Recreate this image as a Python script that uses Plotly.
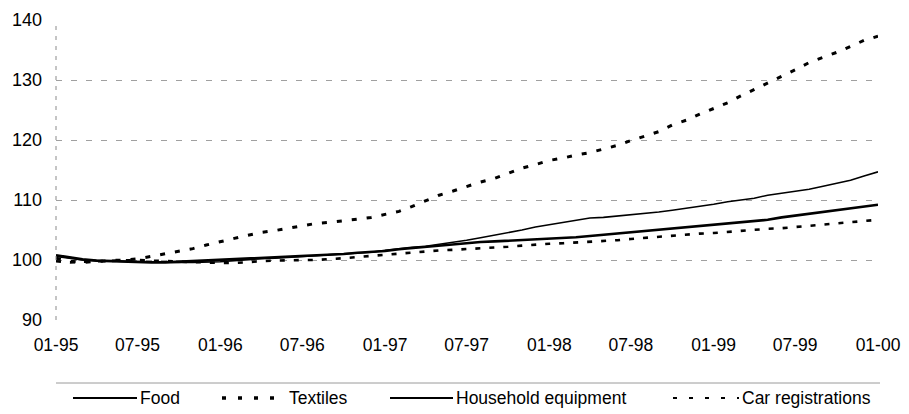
import pandas as pd
import plotly.graph_objects as go

# Monthly dates Jan-1995 .. Jan-2000
months = pd.date_range("1995-01-01", "2000-01-01", freq="MS")

food = [100.6, 100.3, 100.0, 99.9, 99.8, 99.7, 99.7, 99.7, 99.6, 99.6, 99.6, 99.6,
        99.7, 99.9, 100.1, 100.2, 100.3, 100.4, 100.6, 100.7, 100.9, 101.0, 101.2, 101.3,
        101.6, 101.9, 102.1, 102.3, 102.6, 102.9, 103.3, 103.7, 104.1, 104.5, 105.0, 105.5,
        105.9, 106.3, 106.7, 107.0, 107.1, 107.3, 107.5, 107.8, 108.0, 108.3, 108.6, 108.9,
        109.3, 109.7, 110.0, 110.3, 110.8, 111.1, 111.4, 111.8, 112.3, 112.8, 113.3, 114.0,
        114.7]

textiles = [100.3, 99.8, 99.6, 99.8, 99.9, 100.0, 100.2, 100.6, 101.0, 101.5, 101.9, 102.5,
            103.0, 103.6, 104.1, 104.6, 104.9, 105.3, 105.7, 106.1, 106.3, 106.5, 106.8, 107.1,
            107.6, 108.1, 108.9, 109.8, 110.8, 111.5, 112.3, 113.0, 113.6, 114.5, 115.3, 115.9,
            116.6, 117.0, 117.5, 117.9, 118.5, 119.1, 119.9, 120.6, 121.4, 122.5, 123.3, 124.3,
            125.2, 126.2, 127.3, 128.4, 129.5, 130.6, 131.7, 132.9, 133.7, 134.6, 135.6, 136.6,
            137.3]

household = [100.8, 100.4, 100.1, 99.9, 99.8, 99.7, 99.6, 99.6, 99.6, 99.7, 99.8, 99.9,
             100.1, 100.2, 100.3, 100.4, 100.5, 100.5, 100.6, 100.8, 100.9, 101.0, 101.2, 101.3,
             101.5, 101.8, 102.0, 102.2, 102.4, 102.6, 102.8, 103.0, 103.1, 103.2, 103.3, 103.4,
             103.5, 103.7, 103.8, 104.0, 104.2, 104.4, 104.6, 104.8, 105.0, 105.2, 105.4, 105.6,
             105.8, 106.0, 106.3, 106.5, 106.7, 107.1, 107.4, 107.7, 108.0, 108.3, 108.6, 108.9,
             109.2]

car_registrations = [99.8, 99.6, 99.7, 99.8, 99.9, 100.0, 100.0, 99.9, 99.8, 99.7, 99.6, 99.5,
                     99.5, 99.5, 99.7, 99.8, 99.9, 100.0, 100.0, 100.0, 100.1, 100.3, 100.5, 100.7,
                     100.9, 101.1, 101.3, 101.5, 101.6, 101.7, 101.8, 101.9, 102.0, 102.2, 102.4, 102.6,
                     102.7, 102.8, 102.9, 103.0, 103.1, 103.3, 103.5, 103.7, 103.9, 104.1, 104.3, 104.4,
                     104.5, 104.7, 104.8, 105.0, 105.2, 105.3, 105.5, 105.7, 105.9, 106.1, 106.4, 106.6,
                     106.7]

series_names = ["Food", "Textiles", "Household equipment", "Car registrations"]
series_values = [food, textiles, household, car_registrations]

tick_dates = pd.date_range("1995-01-01", "2000-01-01", freq="6MS")
tick_labels = ["01-95", "07-95", "01-96", "07-96", "01-97", "07-97",
               "01-98", "07-98", "01-99", "07-99", "01-00"]
y_ticks = [90, 100, 110, 120, 130, 140]

# ---- styling (kept apart from data) ----
FONT = "Liberation Sans, Arial, sans-serif"
OFF = 8  # page body margin
W, H = 909 - OFF, 414 - OFF
ML, MR, MT, MB = 56 - OFF, 31, 20 - OFF, 94
PW, PH = W - ML - MR, H - MT - MB

line_styles = [
    dict(color="black", width=1.6),
    dict(color="black", width=3, dash="5px,10px"),
    dict(color="black", width=2.6),
    dict(color="black", width=2.6, dash="5px,9px"),
]
legend_line_styles = [
    dict(color="black", width=2),
    dict(color="black", width=3.5, dash="4px,12px"),
    dict(color="black", width=2),
    dict(color="black", width=2, dash="4px,12px"),
]
# legend sample start/end and text start, in screen pixels
legend_px = [(73, 137, 139), (222, 286, 288), (390, 453, 455), (673, 739, 741)]
legend_py = 398


def px_to_paper_x(px):
    return (px - OFF - ML) / PW


def py_to_paper_y(py):
    return (H - MB - (py - OFF)) / PH


fig = go.Figure()
for name, vals, st in zip(series_names, series_values, line_styles):
    fig.add_trace(go.Scatter(x=months, y=vals, name=name, mode="lines", line=st,
                             showlegend=False))

fig.update_layout(
    width=W, height=H,
    margin=dict(l=ML, r=MR, t=MT, b=MB),
    paper_bgcolor="white", plot_bgcolor="white",
    font=dict(family=FONT, size=18, color="black"),
    xaxis=dict(range=[months[0], months[-1]], tickvals=tick_dates, ticktext=tick_labels,
               showgrid=False, zeroline=False, showline=False, ticks="",
               ticklabelstandoff=12, tickfont=dict(size=17.5), automargin=False),
    yaxis=dict(range=[90, 140], tickvals=y_ticks, showgrid=True, gridcolor="#a0a0a0",
               griddash="6px,9px", gridwidth=1, zeroline=False, showline=False, ticks="",
               ticklabelstandoff=13, tickfont=dict(size=18), automargin=False),
)

# dashed vertical axis line
fig.add_shape(type="line", xref="x domain", yref="y domain", x0=0, x1=0, y0=0, y1=1,
              line=dict(color="#8a8a8a", width=1, dash="4px,6px"))
# separator line above the legend
fig.add_shape(type="line", xref="paper", yref="paper", x0=0, x1=px_to_paper_x(880),
              y0=py_to_paper_y(383), y1=py_to_paper_y(383),
              line=dict(color="#9a9a9a", width=1))

# legend drawn as samples + labels
ly = py_to_paper_y(legend_py)
for name, st, (x0, x1, xt) in zip(series_names, legend_line_styles, legend_px):
    fig.add_shape(type="line", xref="paper", yref="paper",
                  x0=px_to_paper_x(x0), x1=px_to_paper_x(x1), y0=ly, y1=ly, line=st)
    fig.add_annotation(x=px_to_paper_x(xt), y=ly, xref="paper", yref="paper",
                       text=name, showarrow=False, xanchor="left", yanchor="middle",
                       font=dict(size=17.5, family=FONT, color="black"), borderpad=0)

fig.write_html("out.html")
